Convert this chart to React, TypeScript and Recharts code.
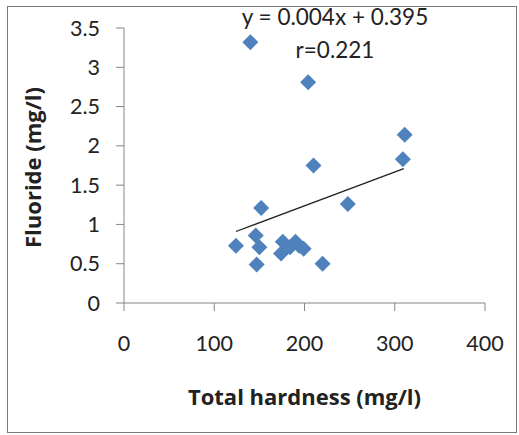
import { ScatterChart, Scatter, XAxis, YAxis } from "recharts";

const FONT = "Lato, 'Open Sans', sans-serif";
const TITLE_FONT = "'Open Sans', Lato, sans-serif";

// Total hardness (mg/l) vs fluoride (mg/l)
const hardness = [140, 204, 311, 309, 210, 248, 152, 146, 124, 150, 147, 220, 176, 174, 184, 190, 194, 199];
const fluoride = [3.32, 2.81, 2.14, 1.83, 1.75, 1.26, 1.21, 0.86, 0.73, 0.71, 0.49, 0.5, 0.78, 0.63, 0.71, 0.78, 0.73, 0.69];

// linear trend line end points
const trendX = [124, 310];
const trendY = [0.91, 1.71];

const xTicks = [0, 100, 200, 300, 400];
const yTicks = [0, 0.5, 1, 1.5, 2, 2.5, 3, 3.5];

const points = hardness.map((h, i) => ({ x: h, y: fluoride[i] }));
const trend = trendX.map((x, i) => ({ x, y: trendY[i] }));

function Diamond(props: any) {
  const { cx, cy } = props;
  if (cx == null || cy == null) return <g />;
  const r = 8;
  return (
    <polygon
      points={`${cx},${cy - r} ${cx + r},${cy} ${cx},${cy + r} ${cx - r},${cy}`}
      fill="#4F81BD"
    />
  );
}

const NoDot = () => <g />;

const noteStyle = {
  position: "absolute" as const,
  left: 335,
  transform: "translateX(-50%)",
  fontFamily: FONT,
  fontSize: 22.5,
  lineHeight: "22px",
  color: "#222",
  whiteSpace: "nowrap" as const,
};

export default function App() {
  return (
    <div style={{ position: "absolute", left: 0, top: 0, width: 519, height: 435, background: "#fff" }}>
      <div
        style={{
          position: "absolute",
          left: 7,
          top: 6,
          width: 510,
          height: 427,
          boxSizing: "border-box",
          border: "1.5px solid #7a7a7a",
        }}
      />
      <ScatterChart width={519} height={435} margin={{ top: 28, right: 34, left: 44, bottom: 72 }}>
        <XAxis
          type="number"
          dataKey="x"
          domain={[0, 400]}
          ticks={xTicks}
          height={60}
          stroke="#868686"
          tickSize={8}
          tickMargin={25}
          tick={{ fill: "#222", fontSize: 21.5, fontFamily: FONT }}
          label={{
            content: ({ viewBox }: any) => (
              <text
                x={viewBox.x + viewBox.width / 2}
                y={viewBox.y + 102}
                textAnchor="middle"
                fontFamily={TITLE_FONT}
                fontWeight="bold"
                fontSize={22}
                fill="#222"
              >
                Total hardness (mg/l)
              </text>
            ),
          }}
        />
        <YAxis
          type="number"
          dataKey="y"
          domain={[0, 3.5]}
          ticks={yTicks}
          width={80}
          stroke="#868686"
          tickSize={8}
          tickMargin={16}
          tick={{ fill: "#222", fontSize: 21.5, fontFamily: FONT }}
          label={{
            content: ({ viewBox }: any) => {
              const cx = 32;
              const cy = viewBox.y + viewBox.height / 2 + 2;
              return (
                <text
                  x={cx}
                  y={cy}
                  transform={`rotate(-90 ${cx} ${cy})`}
                  textAnchor="middle"
                  dominantBaseline="central"
                  fontFamily={TITLE_FONT}
                  fontWeight="bold"
                  fontSize={22}
                  fill="#222"
                >
                  Fluoride (mg/l)
                </text>
              );
            },
          }}
        />
        <Scatter data={points} shape={<Diamond />} isAnimationActive={false} />
        <Scatter
          data={trend}
          line={{ stroke: "#222", strokeWidth: 1.3 }}
          shape={<NoDot />}
          isAnimationActive={false}
        />
      </ScatterChart>
      <div style={{ ...noteStyle, top: 6 }}>y = 0.004x + 0.395</div>
      <div style={{ ...noteStyle, top: 39 }}>r=0.221</div>
    </div>
  );
}
